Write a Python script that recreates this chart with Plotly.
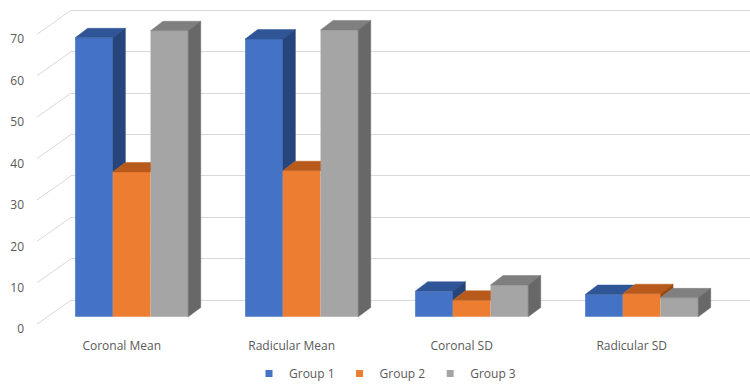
import plotly.graph_objects as go

# ---------------- data ----------------
categories = ["Coronal Mean", "Radicular Mean", "Coronal SD", "Radicular SD"]
group_names = ["Group 1", "Group 2", "Group 3"]
group1 = [67.4, 67.1, 6.2, 5.4]
group2 = [35.0, 35.3, 4.0, 5.6]
group3 = [69.1, 69.3, 7.7, 4.6]
y_tick_values = [0, 10, 20, 30, 40, 50, 60, 70]
series = [group1, group2, group3]

# ---------------- style ----------------
front_colors = ["#4472C4", "#ED7D31", "#A5A5A5"]
top_colors = ["#2F5597", "#B85A1C", "#7F7F7F"]
side_colors = ["#26457C", "#9C4A14", "#686868"]
grid_color = "#D9D9D9"
text_color = "#595959"
FONT = "Open Sans"

# ---------------- geometry (pixels) ----------------
W, H = 750, 388
K = 4.165                 # px per value unit
WALL_ZERO_PX = 301.7      # back wall 0 line
PLOT_LEFT = 71            # back wall left edge
CAT_PITCH = 170
FIRST_CAT_PX = 131.7
FLOOR_OFFSET_PX = 16.8    # bar front plane lies below back wall
DEPTH_DX_PX = 12.5
DEPTH_DY_PX = 9.5
LABEL_DX_PX = 34          # front labels vs back wall
LABEL_DY_PX = 24
Y_MIN, Y_MAX = -6, 72
BARGAP = 0.335

top_px = WALL_ZERO_PX - Y_MAX * K
bot_px = WALL_ZERO_PX - Y_MIN * K
plot_w = W - PLOT_LEFT
x_range = [(PLOT_LEFT - FIRST_CAT_PX) / CAT_PITCH, (W - FIRST_CAT_PX) / CAT_PITCH]
base = -FLOOR_OFFSET_PX / K
bw = (1 - BARGAP) / 3
dx = DEPTH_DX_PX / CAT_PITCH
dy = DEPTH_DY_PX / K
cat_pos = list(range(len(categories)))

fig = go.Figure()

# front faces
for j, (name, vals) in enumerate(zip(group_names, series)):
    fig.add_trace(go.Bar(
        x=cat_pos, y=vals, base=base, name=name,
        marker=dict(color=front_colors[j], line=dict(width=0)),
        showlegend=False, hoverinfo="skip",
    ))

# top and side faces (only visible parts)
for j, vals in enumerate(series):
    tx, ty, sx, sy = [], [], [], []
    for i, v in enumerate(vals):
        L = cat_pos[i] - (1 - BARGAP) / 2 + j * bw
        R = L + bw
        t = base + v
        nxt = base + series[j + 1][i] if j < 2 else None
        # top face
        if nxt is not None and nxt > t:
            px = [L, R, R, R + max(0, t + dy - nxt) / dy * dx, L + dx, L]
            py = [t, t, min(nxt, t + dy), t + dy, t + dy, t]
        else:
            px = [L, R, R + dx, L + dx, L]
            py = [t, t, t + dy, t + dy, t]
        tx += px + [None]
        ty += py + [None]
        # side face
        low = base if nxt is None else nxt
        if t > low:
            sx += [R, R, R + dx, R + dx, R, None]
            sy += [low, t, t + dy, low + dy, low, None]
    fig.add_trace(go.Scatter(x=tx, y=ty, mode="lines", fill="toself",
                             fillcolor=top_colors[j], line=dict(width=0.5, color=top_colors[j]),
                             showlegend=False, hoverinfo="skip"))
    if sx:
        fig.add_trace(go.Scatter(x=sx, y=sy, mode="lines", fill="toself",
                                 fillcolor=side_colors[j], line=dict(width=0.5, color=side_colors[j]),
                                 showlegend=False, hoverinfo="skip"))

# legend entries
for j, name in enumerate(group_names):
    fig.add_trace(go.Scatter(x=[None], y=[None], mode="markers", name=name,
                             marker=dict(symbol="square", size=7, color=front_colors[j])))

# diagonal lines from front labels to back wall
shapes = []
for v in y_tick_values:
    shapes.append(dict(type="line", xref="paper", x0=-LABEL_DX_PX / plot_w, x1=0,
                       yref="y", ysizemode="pixel", yanchor=v, y0=-LABEL_DY_PX, y1=0,
                       line=dict(color=grid_color, width=1), layer="below"))

fig.update_layout(
    width=W, height=H,
    margin=dict(l=PLOT_LEFT, r=0, t=top_px, b=H - bot_px, pad=0),
    paper_bgcolor="white", plot_bgcolor="white",
    barmode="group", bargap=BARGAP, bargroupgap=0,
    font=dict(family=FONT, size=12, color=text_color),
    shapes=shapes,
    showlegend=True,
    legend=dict(orientation="h", x=(385 - PLOT_LEFT) / plot_w, xanchor="center",
                y=(bot_px - 376) / (bot_px - top_px), yanchor="middle",
                font=dict(size=12, color=text_color), itemwidth=30),
    xaxis=dict(range=x_range, tickvals=cat_pos, ticktext=categories,
               showgrid=False, zeroline=False, showline=False, ticks="",
               ticklabelshift=-10, ticklabelstandoff=12, fixedrange=True),
    yaxis=dict(range=[Y_MIN, Y_MAX], tickvals=y_tick_values, showgrid=True,
               gridcolor=grid_color, gridwidth=1, zeroline=False, showline=False,
               ticks="", ticklabelshift=29, ticklabelstandoff=LABEL_DX_PX + 12,
               fixedrange=True),
)

fig.write_html("out.html")
